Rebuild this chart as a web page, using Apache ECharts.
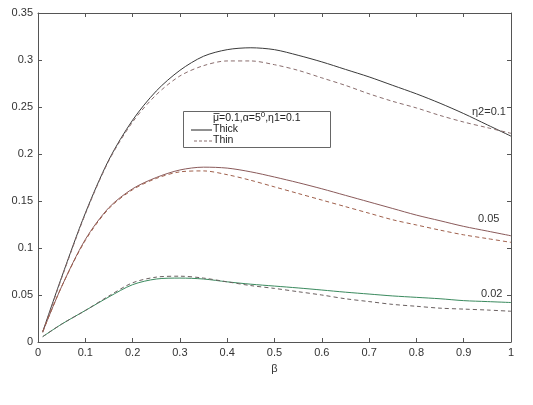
<!DOCTYPE html>
<html><head><meta charset="utf-8">
<script src="https://cdn.jsdelivr.net/npm/echarts@6/dist/echarts.min.js"></script>
<style>html,body{margin:0;padding:0;background:#fff}#c{width:533px;height:405px}</style>
</head><body><div id="c"></div>
<script>
const beta = [0.01,0.05,0.1,0.15,0.2,0.25,0.3,0.35,0.4,0.45,0.5,0.55,0.6,0.65,0.7,0.75,0.8,0.85,0.9,0.95,1.0];
const thick01  = [0.011,0.069,0.137,0.194,0.236,0.267,0.289,0.304,0.311,0.313,0.311,0.305,0.298,0.290,0.282,0.273,0.264,0.254,0.243,0.231,0.219];
const thin01   = [0.010,0.068,0.136,0.193,0.234,0.263,0.283,0.294,0.299,0.299,0.295,0.289,0.281,0.273,0.264,0.256,0.249,0.241,0.234,0.228,0.222];
const thick005 = [0.011,0.059,0.109,0.143,0.163,0.175,0.183,0.186,0.185,0.181,0.1755,0.1695,0.163,0.156,0.149,0.142,0.135,0.129,0.123,0.118,0.113];
const thin005  = [0.011,0.059,0.108,0.142,0.162,0.174,0.181,0.182,0.178,0.172,0.165,0.158,0.151,0.144,0.137,0.130,0.1245,0.119,0.114,0.110,0.106];
const thick002 = [0.0057,0.019,0.0335,0.048,0.061,0.067,0.068,0.067,0.064,0.0615,0.0595,0.0575,0.0553,0.053,0.051,0.049,0.0475,0.046,0.044,0.043,0.042];
const thin002  = [0.0057,0.019,0.0335,0.049,0.063,0.069,0.070,0.068,0.064,0.060,0.057,0.0535,0.050,0.046,0.043,0.040,0.038,0.036,0.035,0.034,0.0327];
const xTickLabels = ['0','0.1','0.2','0.3','0.4','0.5','0.6','0.7','0.8','0.9','1'];
const yTickLabels = ['0','0.05','0.1','0.15','0.2','0.25','0.3','0.35'];

const pairs = v => beta.map((b,i)=>[b,v[i]]);
const font = 'Liberation Sans, Arial, sans-serif';
function mk(name, vals, color, dashed){
  return {name, type:'line', data:pairs(vals), smooth:0.3, symbol:'none',
    lineStyle:{color, width:1, type: dashed?[4,3]:'solid'}, xAxisIndex:0, yAxisIndex:0, z:3};
}
const chart = echarts.init(document.getElementById('c'));
const common = () => ({axisLine:{show:true,onZero:false,lineStyle:{color:'#555',width:1}}, splitLine:{show:false},
  axisTick:{show:true,inside:true,length:4,lineStyle:{color:'#555'}}});
chart.setOption({
  animation:false,
  backgroundColor:'#fff',
  grid:{left:38,right:22,top:13,bottom:63,containLabel:false,outerBoundsMode:'none'},
  xAxis:[
    Object.assign(common(),{type:'value',min:0,max:1,interval:0.1,name:'β',nameLocation:'middle',nameGap:21,
      nameTextStyle:{fontFamily:font,fontSize:11,color:'#333'},
      axisLabel:{fontFamily:font,fontSize:11,color:'#333',margin:5,formatter:v=>xTickLabels[Math.round(v*10)]||''}}),
    Object.assign(common(),{type:'value',min:0,max:1,interval:0.1,position:'top',axisLabel:{show:false}})
  ],
  yAxis:[
    Object.assign(common(),{type:'value',min:0,max:0.35,interval:0.05,name:'Ū*10',nameLocation:'middle',nameGap:26,
      nameTextStyle:{fontFamily:font,fontSize:11,color:'#333'},
      axisLabel:{fontFamily:font,fontSize:11,color:'#333',margin:5,formatter:v=>yTickLabels[Math.round(v*20)]||''}}),
    Object.assign(common(),{type:'value',min:0,max:0.35,interval:0.05,position:'right',axisLabel:{show:false}})
  ],
  series:[
    mk('t01',thick01,'#3a3a3a',false),
    mk('n01',thin01,'#8a6e6e',true),
    mk('t005',thick005,'#8a5a5a',false),
    mk('n005',thin005,'#a0604c',true),
    mk('t002',thick002,'#3a8a5e',false),
    mk('n002',thin002,'#6a6060',true)
  ],
  graphic:[
    {type:'rect',shape:{x:183.5,y:111.5,width:147,height:36},style:{fill:'#fff',stroke:'#666',lineWidth:1},z:10},
    {type:'text',x:213,y:111,style:{text:'{a|μ=0.1,α=5}{s|0}{a|,η1=0.1}',rich:{a:{fontFamily:font,fontSize:10.5,fill:'#222'},s:{fontFamily:font,fontSize:8,fill:'#222',verticalAlign:'top',padding:[0,0,6,0]}},fill:'#222'},z:11},
    {type:'line',shape:{x1:213.5,y1:113.5,x2:219.5,y2:113.5},style:{stroke:'#222',lineWidth:0.8},z:11},
    {type:'line',shape:{x1:191,y1:130,x2:212,y2:130},style:{stroke:'#222',lineWidth:1},z:11},
    {type:'text',x:213,y:124,style:{text:'Thick',fontFamily:font,fontSize:10.5,fill:'#222'},z:11},
    {type:'line',shape:{x1:194,y1:141,x2:212,y2:141},style:{stroke:'#8a6e6e',lineWidth:1,lineDash:[3,2]},z:11},
    {type:'text',x:213,y:135,style:{text:'Thin',fontFamily:font,fontSize:10.5,fill:'#222'},z:11},
    {type:'text',x:472,y:106,style:{text:'η2=0.1',fontFamily:font,fontSize:11,fill:'#333'},z:11},
    {type:'text',x:478,y:213,style:{text:'0.05',fontFamily:font,fontSize:11,fill:'#333'},z:11},
    {type:'text',x:481,y:288,style:{text:'0.02',fontFamily:font,fontSize:11,fill:'#333'},z:11}
  ]
});
</script></body></html>
